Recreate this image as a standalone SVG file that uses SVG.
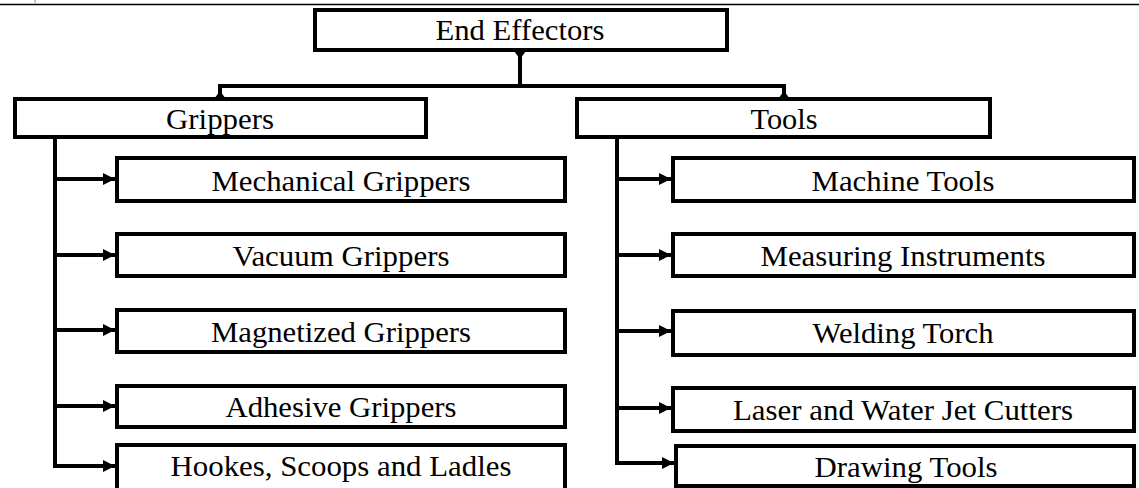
<svg xmlns="http://www.w3.org/2000/svg" width="1139" height="488" viewBox="0 0 1139 488">
<defs>
<marker id="ah" viewBox="0 0 12 12" refX="12" refY="6" markerWidth="12" markerHeight="12" markerUnits="userSpaceOnUse" orient="auto">
<path d="M0,0 L12,6 L0,12 Z" fill="#000"/>
</marker>
</defs>
<style>
.box{fill:#fff;stroke:#000;stroke-width:4}
.lbl{font-family:"Liberation Serif","Times New Roman",serif;font-size:30px;fill:#000;text-anchor:middle}
.ln{fill:none;stroke:#000;stroke-width:4}
.arr{fill:none;stroke:#000;stroke-width:4;marker-end:url(#ah)}
</style>
<rect width="1139" height="488" fill="#fff"/>
<line x1="0" y1="4.5" x2="1139" y2="4.5" stroke="#000" stroke-width="1.5"/>
<line x1="35" y1="0" x2="35" y2="3" stroke="#888" stroke-width="1"/>

<g id="connectors">
<path class="ln" d="M520,50 V86 M218,86 H786 M220,86 V98 M784,86 V98"/>
<path d="M514,51 L526,51 L520,59 Z" fill="#000"/>
<path d="M214,99 L226,99 L220,91 Z" fill="#000"/>
<path d="M778,99 L790,99 L784,91 Z" fill="#000"/>
<path class="ln" d="M55,137 V466"/>
<path class="arr" d="M55,179 H115"/>
<path class="arr" d="M55,255 H115"/>
<path class="arr" d="M55,330 H115"/>
<path class="arr" d="M55,406 H115"/>
<path class="arr" d="M53,466 H115"/>
<path class="ln" d="M617,137 V463"/>
<path class="arr" d="M617,179 H671"/>
<path class="arr" d="M617,255 H671"/>
<path class="arr" d="M617,331 H671"/>
<path class="arr" d="M617,408 H671"/>
<path class="arr" d="M615,463 H674"/>
</g>

<g id="end-effectors"><rect class="box" x="315" y="10" width="412" height="40"/><text class="lbl" x="520" y="40" textLength="169" lengthAdjust="spacingAndGlyphs">End Effectors</text></g>
<g id="grippers"><rect class="box" x="15" y="99" width="411" height="38"/><text class="lbl" x="220" y="129" textLength="108" lengthAdjust="spacingAndGlyphs">Grippers</text></g>
<g id="tools"><rect class="box" x="577" y="99" width="413" height="38"/><text class="lbl" x="784" y="129" textLength="67" lengthAdjust="spacingAndGlyphs">Tools</text></g>

<g id="mechanical-grippers"><rect class="box" x="117" y="158" width="448" height="43"/><text class="lbl" x="341" y="191" textLength="259" lengthAdjust="spacingAndGlyphs">Mechanical Grippers</text></g>
<g id="vacuum-grippers"><rect class="box" x="117" y="234" width="448" height="42"/><text class="lbl" x="341" y="266" textLength="217" lengthAdjust="spacingAndGlyphs">Vacuum Grippers</text></g>
<g id="magnetized-grippers"><rect class="box" x="117" y="310" width="448" height="42"/><text class="lbl" x="341" y="342" textLength="260" lengthAdjust="spacingAndGlyphs">Magnetized Grippers</text></g>
<g id="adhesive-grippers"><rect class="box" x="117" y="386" width="448" height="41"/><text class="lbl" x="341" y="417" textLength="231" lengthAdjust="spacingAndGlyphs">Adhesive Grippers</text></g>
<g id="hookes-scoops-ladles"><rect class="box" x="117" y="445" width="448" height="50"/><text class="lbl" x="341" y="476" textLength="341" lengthAdjust="spacingAndGlyphs">Hookes, Scoops and Ladles</text></g>

<g id="machine-tools"><rect class="box" x="673" y="158" width="461" height="43"/><text class="lbl" x="903" y="191" textLength="183" lengthAdjust="spacingAndGlyphs">Machine Tools</text></g>
<g id="measuring-instruments"><rect class="box" x="673" y="234" width="461" height="42"/><text class="lbl" x="903" y="266" textLength="285" lengthAdjust="spacingAndGlyphs">Measuring Instruments</text></g>
<g id="welding-torch"><rect class="box" x="673" y="311" width="461" height="44"/><text class="lbl" x="903" y="343" textLength="181" lengthAdjust="spacingAndGlyphs">Welding Torch</text></g>
<g id="laser-water-jet"><rect class="box" x="673" y="388" width="461" height="43"/><text class="lbl" x="903" y="420" textLength="340" lengthAdjust="spacingAndGlyphs">Laser and Water Jet Cutters</text></g>
<g id="drawing-tools"><rect class="box" x="676" y="446" width="458" height="40"/><text class="lbl" x="906" y="477" textLength="183" lengthAdjust="spacingAndGlyphs">Drawing Tools</text></g>
</svg>
